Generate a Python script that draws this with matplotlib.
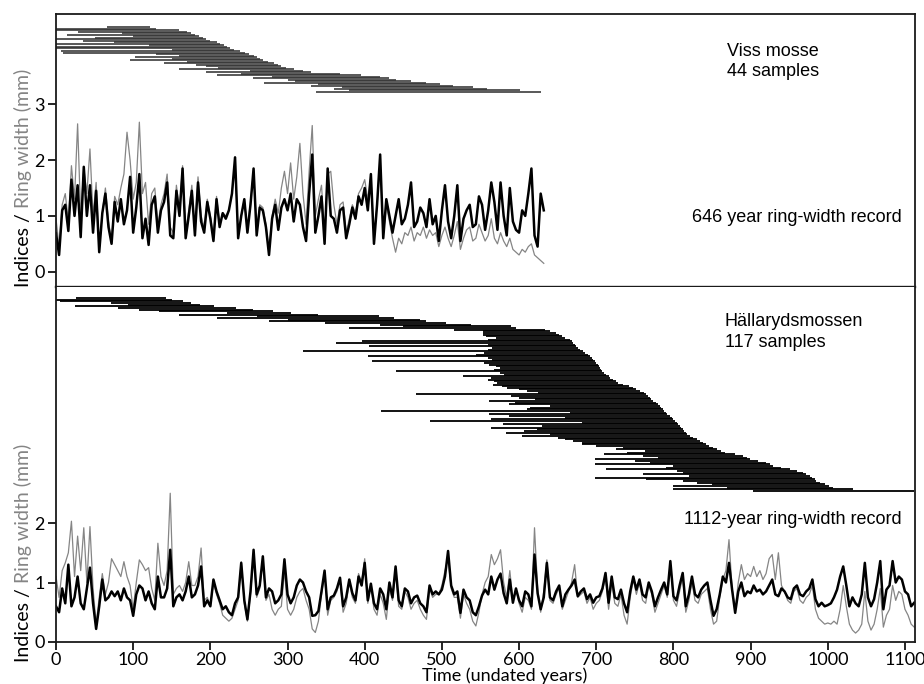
import numpy as np
import matplotlib
matplotlib.use('Agg')
import matplotlib.pyplot as plt

# ---------------- data ----------------
# Viss mosse: sample coverage (start / end year), top to bottom
viss_start = [66, 0, 0, 29, 85, 14, 100, 50, 0, 35,
              75, 0, 120, 0, 0, 150, 7, 9, 130, 160,
              102, 150, 96, 170, 140, 182, 195, 210, 160, 251,
              195, 240, 208, 280, 255, 300, 310, 270, 340, 330,
              370, 360, 380, 337]
viss_end = [122, 130, 160, 170, 175, 180, 185, 190, 195, 200,
            208, 212, 218, 222, 226, 230, 238, 245, 250, 256,
            260, 264, 268, 275, 282, 288, 292, 298, 308, 320,
            330, 368, 395, 420, 432, 441, 460, 480, 498, 515,
            540, 558, 601, 629]

# Viss mosse series (every 4 years, 0..632)
viss_years = np.arange(0, 633, 4)
viss_index = [0.69, 0.30, 1.10, 1.20, 0.73, 1.65, 1.00, 1.55, 0.62, 1.88,
              1.00, 1.55, 0.70, 1.45, 0.35, 1.05, 1.40, 0.80, 0.50, 1.25,
              0.90, 1.30, 0.85, 1.10, 1.70, 0.70, 1.15, 1.75, 0.60, 0.95,
              0.48, 1.20, 1.35, 0.70, 1.10, 1.25, 1.60, 0.65, 0.60, 1.45,
              1.00, 1.85, 0.60, 1.00, 1.45, 0.65, 1.60, 0.90, 0.70, 1.25,
              0.95, 0.55, 1.30, 0.80, 1.05, 0.95, 1.10, 1.40, 2.05, 0.60,
              1.00, 1.30, 0.70, 1.20, 1.85, 0.65, 1.15, 1.10, 0.80, 0.30,
              0.95, 1.20, 0.75, 1.15, 1.30, 1.10, 1.40, 0.90, 1.30, 1.20,
              0.80, 0.55, 1.40, 2.10, 0.70, 1.00, 1.35, 0.50, 1.85, 1.00,
              0.95, 0.70, 1.10, 1.15, 0.60, 0.85, 1.15, 0.95, 1.35, 1.20,
              1.50, 1.10, 1.75, 0.50, 1.20, 2.10, 0.60, 1.30, 1.00, 0.70,
              1.00, 1.30, 0.85, 0.95, 1.20, 1.60, 0.80, 0.90, 1.15, 1.05,
              0.80, 1.30, 0.85, 1.00, 0.55, 1.10, 1.55, 0.90, 0.60, 1.00,
              1.55, 0.55, 0.95, 1.10, 1.20, 0.80, 0.85, 1.35, 1.20, 0.75,
              1.10, 1.60, 1.25, 0.75, 1.60, 1.00, 0.65, 1.50, 0.90, 0.75,
              0.70, 1.10, 1.00, 1.40, 1.85, 0.65, 0.45, 1.40, 1.10]
viss_rw = [0.95, 0.45, 1.20, 1.40, 0.90, 1.90, 1.30, 2.65, 1.00, 1.85,
           1.40, 2.20, 1.00, 1.60, 0.40, 1.05, 1.50, 0.90, 0.55, 1.35,
           1.20, 1.50, 1.75, 2.50, 2.00, 1.30, 1.60, 2.68, 1.40, 1.60,
           0.85, 1.40, 1.50, 0.85, 1.20, 1.40, 1.75, 0.80, 0.70, 1.55,
           1.10, 1.90, 0.70, 1.10, 1.55, 0.70, 1.70, 1.00, 0.80, 1.30,
           1.00, 0.60, 1.35, 0.85, 1.05, 1.00, 1.10, 1.40, 1.95, 0.65,
           1.00, 1.30, 0.75, 1.25, 1.80, 0.75, 1.20, 1.15, 0.85, 0.40,
           1.00, 1.30, 1.05, 1.50, 1.80, 1.40, 1.95, 1.30, 1.70, 2.30,
           1.40, 0.85, 1.80, 2.62, 1.00, 1.30, 1.55, 0.70, 1.75, 1.80,
           1.20, 0.85, 1.20, 1.25, 0.70, 0.95, 1.20, 1.05, 1.40, 1.50,
           1.65, 1.30, 1.70, 0.60, 1.20, 1.90, 0.65, 1.20, 0.90, 0.60,
           0.35, 0.60, 0.50, 0.70, 0.65, 0.80, 0.55, 0.70, 0.65, 0.80,
           0.60, 0.75, 0.65, 0.70, 0.45, 0.65, 0.80, 0.60, 0.45, 0.65,
           0.90, 0.40, 0.60, 0.75, 0.80, 0.55, 0.60, 0.85, 0.70, 0.55,
           0.65, 0.95, 0.60, 0.50, 0.70, 0.55, 0.45, 0.60, 0.40, 0.35,
           0.30, 0.40, 0.35, 0.45, 0.50, 0.30, 0.25, 0.20, 0.15]

# Hällarydsmossen: sample coverage (start / end year), top to bottom
hall_start = [26, 0, 5, 71, 93, 24, 80, 108, 134, 222,
              160, 260, 209, 300, 276, 348, 420, 450, 380, 516,
              553, 553, 553, 557, 570, 560, 397, 363, 560, 406,
              565, 560, 320, 555, 544, 404, 560, 565, 410, 555,
              561, 570, 575, 568, 440, 575, 580, 527, 563, 560,
              568, 572, 566, 578, 585, 600, 610, 625, 466, 590,
              600, 620, 561, 595, 587, 640, 614, 610, 421, 666,
              561, 587, 660, 563, 484, 681, 579, 630, 563, 623,
              606, 583, 640, 604, 650, 660, 670, 681, 681, 700,
              735, 726, 763, 740, 710, 760, 780, 698, 750, 770,
              698, 800, 790, 713, 804, 812, 760, 820, 698, 765,
              812, 830, 850, 800, 870, 800, 903]
hall_end = [142, 150, 164, 175, 186, 205, 233, 255, 281, 304,
            340, 419, 438, 471, 479, 505, 538, 589, 596, 633,
            640, 648, 652, 655, 660, 666, 668, 670, 672, 674,
            676, 679, 683, 686, 689, 692, 694, 696, 698, 700,
            702, 704, 705, 706, 707, 710, 713, 716, 718, 722,
            725, 728, 735, 742, 748, 752, 757, 762, 765, 767,
            769, 771, 774, 777, 780, 782, 784, 786, 788, 790,
            792, 795, 798, 800, 802, 804, 806, 808, 810, 812,
            814, 816, 817, 822, 826, 830, 834, 838, 842, 846,
            851, 856, 862, 867, 880, 890, 895, 899, 910, 920,
            925, 929, 940, 951, 960, 968, 972, 977, 980, 983,
            985, 990, 996, 1002, 1007, 1033, 1112]

# Hällarydsmossen series (every 4 years, 0..1112)
hall_years = np.arange(0, 1113, 4)
hall_index = [0.60, 0.50, 0.90, 0.65, 1.30, 0.60, 0.75, 1.10, 0.65, 0.55,
              0.90, 1.25, 0.65, 0.22, 0.60, 1.05, 0.70, 0.75, 0.85, 0.77,
              0.85, 0.70, 0.90, 0.75, 0.70, 0.44, 0.80, 0.95, 0.90, 0.70,
              0.85, 0.65, 0.55, 1.10, 0.75, 0.75, 0.90, 1.55, 0.60, 0.75,
              0.80, 0.70, 0.85, 1.10, 0.75, 0.80, 0.95, 1.27, 0.60, 0.70,
              0.60, 1.05, 0.85, 0.70, 0.55, 0.60, 0.50, 0.45, 0.65, 0.75,
              1.33, 0.70, 0.38, 0.85, 1.55, 0.80, 0.95, 1.44, 0.75, 0.90,
              0.85, 0.65, 0.70, 0.80, 1.39, 0.80, 0.65, 0.75, 0.95, 1.05,
              1.00, 0.85, 0.75, 0.44, 0.45, 0.52, 0.85, 1.20, 0.55, 0.75,
              0.78, 0.90, 1.08, 0.60, 0.75, 1.05, 0.82, 0.70, 1.10, 0.95,
              1.33, 0.70, 0.98, 0.65, 0.55, 0.90, 0.80, 0.55, 1.00, 0.75,
              1.27, 0.70, 0.60, 0.90, 0.85, 0.65, 0.75, 0.78, 0.65, 0.60,
              0.50, 0.95, 0.80, 0.85, 0.80, 0.88, 1.10, 1.53, 0.95, 0.80,
              0.85, 0.49, 0.88, 0.75, 0.70, 0.50, 0.45, 0.60, 0.78, 0.88,
              0.80, 1.10, 0.88, 1.05, 1.15, 0.82, 0.65, 1.05, 0.66, 0.90,
              0.70, 0.60, 0.85, 0.80, 0.60, 1.47, 0.82, 0.55, 0.75, 1.33,
              0.75, 0.70, 0.85, 0.95, 0.60, 0.80, 0.88, 0.95, 1.05, 0.77,
              0.85, 0.90, 0.72, 0.80, 0.66, 0.75, 0.77, 0.90, 1.16, 0.66,
              1.10, 0.75, 0.72, 0.88, 0.65, 0.50, 0.85, 1.10, 0.88, 1.05,
              0.80, 0.75, 1.00, 0.85, 0.60, 0.75, 0.88, 1.00, 0.80, 1.36,
              0.77, 0.70, 0.95, 1.16, 0.60, 0.80, 1.10, 0.80, 0.75, 0.88,
              0.95, 1.00, 0.70, 0.44, 0.55, 0.80, 1.10, 1.00, 1.33, 0.88,
              0.49, 0.85, 1.00, 0.77, 0.85, 0.82, 0.95, 0.85, 0.88, 0.80,
              0.85, 0.95, 1.05, 0.80, 0.77, 0.90, 0.85, 0.75, 0.72, 0.90,
              0.95, 0.80, 0.77, 0.85, 0.90, 1.05, 0.72, 0.60, 0.66, 0.60,
              0.62, 0.65, 0.75, 0.88, 1.10, 1.27, 0.95, 0.60, 0.75, 0.65,
              0.60, 0.80, 1.33, 0.75, 0.60, 0.72, 1.00, 1.36, 0.55, 0.88,
              0.95, 1.36, 1.00, 1.10, 1.05, 0.85, 0.80, 0.60, 0.66]
hall_rw = [1.10, 0.75, 1.20, 1.33, 1.50, 2.03, 1.10, 1.78, 1.20, 1.92,
           1.00, 1.94, 0.90, 0.30, 0.75, 1.15, 0.80, 1.00, 1.40, 1.30,
           1.20, 1.10, 1.35, 1.10, 0.95, 0.55, 1.00, 1.38, 1.30, 1.20,
           1.25, 0.90, 0.70, 1.66, 1.10, 0.95, 1.20, 2.50, 0.80, 0.90,
           0.95, 0.85, 1.00, 1.35, 0.95, 0.95, 1.10, 1.58, 0.70, 0.75,
           0.60, 1.00, 0.80, 0.65, 0.45, 0.40, 0.35, 0.40, 0.55, 0.70,
           1.35, 0.65, 0.35, 0.80, 1.45, 0.75, 0.90, 1.40, 0.70, 0.80,
           0.55, 0.45, 0.55, 0.60, 1.20, 0.55, 0.45, 0.55, 0.75, 0.85,
           0.90, 0.70, 0.55, 0.22, 0.16, 0.35, 0.80, 1.15, 0.45, 0.70,
           0.75, 0.85, 1.05, 0.50, 0.65, 1.00, 0.75, 0.65, 1.15, 1.00,
           1.40, 0.65, 0.95, 0.55, 0.45, 0.80, 0.65, 0.38, 0.90, 0.70,
           1.20, 0.60, 0.55, 0.85, 0.75, 0.55, 0.65, 0.70, 0.55, 0.45,
           0.38, 0.90, 0.75, 0.80, 0.80, 0.95, 1.20, 1.40, 0.90, 0.75,
           0.75, 0.40, 0.80, 0.65, 0.55, 0.35, 0.27, 0.50, 0.80, 1.00,
           1.10, 1.47, 1.30, 1.40, 1.55, 1.00, 0.75, 1.20, 0.70, 0.90,
           0.65, 0.50, 0.75, 0.70, 0.55, 1.92, 0.90, 0.50, 0.85, 1.38,
           0.70, 0.65, 0.80, 0.90, 0.55, 0.70, 0.85, 1.00, 1.30, 0.75,
           0.80, 0.85, 0.65, 0.75, 0.55, 0.65, 0.70, 0.85, 1.10, 0.55,
           1.00, 0.65, 0.60, 0.80, 0.45, 0.30, 0.75, 1.05, 0.80, 1.00,
           0.70, 0.65, 0.95, 0.80, 0.50, 0.65, 0.80, 0.95, 0.75, 1.30,
           0.70, 0.60, 0.85, 1.10, 0.50, 0.70, 1.00, 0.70, 0.65, 0.80,
           0.85, 0.90, 0.55, 0.30, 0.35, 0.75, 1.05, 1.20, 1.72, 0.90,
           0.55, 1.00, 1.30, 1.05, 1.15, 1.10, 1.27, 1.10, 1.20, 1.05,
           1.15, 1.40, 1.47, 1.05, 1.50, 0.95, 0.85, 0.70, 0.65, 0.85,
           0.90, 0.70, 0.65, 0.75, 0.80, 0.95, 0.55, 0.40, 0.35, 0.30,
           0.32, 0.30, 0.35, 0.30, 0.55, 0.95, 0.60, 0.30, 0.20, 0.15,
           0.20, 0.30, 0.85, 0.35, 0.20, 0.30, 0.55, 0.90, 0.25, 0.45,
           0.55, 0.95, 0.70, 0.85, 0.80, 0.55, 0.45, 0.30, 0.25]

top_yticks = [0, 1, 2, 3]
bot_yticks = [0, 1, 2]
bot_xticks = list(range(0, 1101, 100))

# ---------------- layout ----------------
W, H = 924, 684
fig = plt.figure(figsize=(W / 100, H / 100), dpi=100)
L, R = 56, 915
ymid, ytop, ybot = 286.5, 13.7, 642
ax1 = fig.add_axes([L / W, 1 - ymid / H, (R - L) / W, (ymid - ytop) / H])
ax2 = fig.add_axes([L / W, 1 - ybot / H, (R - L) / W, (ybot - ymid) / H])

TICKFONT = 'Lato'
ANNFONT = 'Liberation Sans'
GRAY = '#858585'
TFS = 13

for ax in (ax1, ax2):
    ax.set_xlim(0, 1113)
    for s in ax.spines.values():
        s.set_linewidth(1.3)
        s.set_color('#1a1a1a')
    ax.tick_params(axis='both', direction='out', length=6, width=1.2,
                   labelsize=TFS, pad=2)
ax1.spines['bottom'].set_linewidth(1.7)
ax2.tick_params(axis='x', pad=1.5)

# top panel
ax1.set_ylim(-0.265, 4.624)
ax1.set_yticks(top_yticks)
ax1.set_xticks([])
ax1.set_yticklabels([str(v) for v in top_yticks], family=TICKFONT, fontsize=TFS)
ny1 = len(viss_start)
yb1 = np.linspace(4.385, 3.229, ny1)
ax1.hlines(yb1, viss_start, viss_end, color='#333333', lw=1.15)
ax1.plot(viss_years, viss_rw, color=GRAY, lw=0.9)
ax1.plot(viss_years, viss_index, color='black', lw=1.8)

# bottom panel
ax2.set_ylim(0, 5.975)
ax2.set_yticks(bot_yticks)
ax2.set_yticklabels([str(v) for v in bot_yticks], family=TICKFONT, fontsize=TFS)
ax2.set_xticks(bot_xticks)
ax2.set_xticklabels([str(v) for v in bot_xticks], family=TICKFONT, fontsize=TFS)
ax2.spines['top'].set_visible(False)
ny2 = len(hall_start)
yb2 = np.linspace(5.782, 2.538, ny2)
ax2.hlines(yb2, hall_start, hall_end, color='black', lw=1.3)
ax2.plot(hall_years, hall_rw, color=GRAY, lw=0.9)
ax2.plot(hall_years, hall_index, color='black', lw=1.8)
ax2.set_xlabel('Time (undated years)', family=TICKFONT, fontsize=TFS)
ax2.xaxis.set_label_coords((505 - L) / (R - L), -(676 - ybot) / (ybot - ymid))
ax2.xaxis.label.set_va('center')

# annotations
def ftxt(x, y, s, **kw):
    fig.text(x / W, 1 - y / H, s, family=ANNFONT, fontsize=13, **kw)

ftxt(727, 61.5, 'Viss mosse\n44 samples', ha='left', va='center', linespacing=1.25)
ftxt(902, 218, '646 year ring-width record', ha='right', va='center')
ftxt(725, 332, 'Hällarydsmossen\n117 samples', ha='left', va='center', linespacing=1.25)
ftxt(902, 519, '1112-year ring-width record', ha='right', va='center')

# two-colour y labels
fig.canvas.draw()

def ylabel2(ybot_px):
    x = 29 / W
    t1 = fig.text(x, 1 - ybot_px / H, 'Indices /', rotation=90, rotation_mode='anchor',
                  ha='left', va='baseline', family=TICKFONT, fontsize=14, color='black')
    fig.canvas.draw()
    bb = t1.get_window_extent()
    fig.text(x, (bb.y1 + 5) / H, 'Ring width (mm)', rotation=90, rotation_mode='anchor',
             ha='left', va='baseline', family=TICKFONT, fontsize=14, color=GRAY)

ylabel2(287)
ylabel2(662)

fig.savefig('out.png', dpi=100)
